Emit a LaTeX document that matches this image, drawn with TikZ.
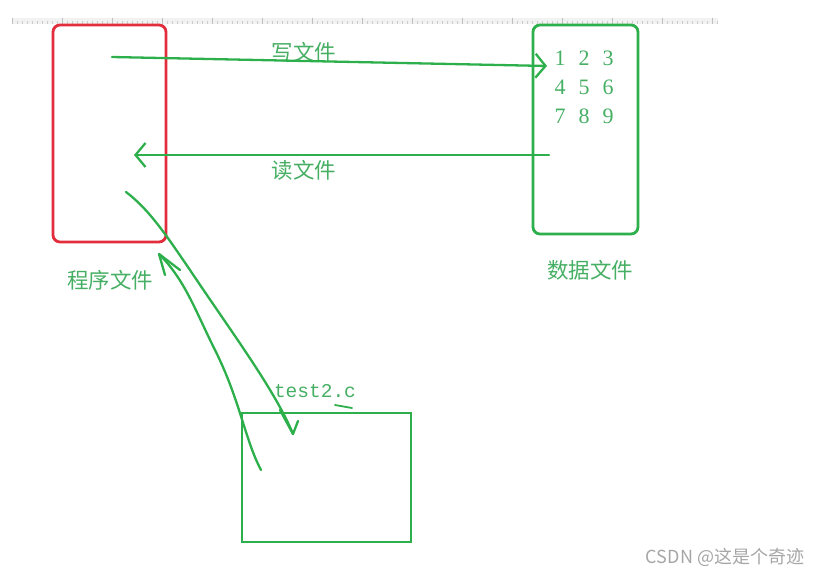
\documentclass[tikz,border=0pt]{standalone}
\usepackage{fontspec}
\setmainfont{Liberation Serif}
\setmonofont{Liberation Mono}
\newfontfamily\cjk{Noto Sans CJK SC}
\usetikzlibrary{arrows.meta}
\definecolor{penG}{RGB}{45,175,75}
\definecolor{txtG}{RGB}{70,175,100}
\definecolor{penR}{RGB}{225,45,60}
\tikzset{
  gbox/.style={draw=penG, line width=2.8pt, rounded corners=7pt, inner sep=0pt},
  rbox/.style={draw=penR, line width=2.8pt, rounded corners=7pt, inner sep=0pt},
  sbox/.style={draw=penG, line width=2.8pt, inner sep=0pt},
  pen/.style={draw=penG, line width=2.3pt, line cap=round, line join=round},
  lbl/.style={text=txtG, font=\cjk\fontsize{21.5}{23}\selectfont, inner sep=0pt},
  num/.style={text=txtG, font=\fontsize{22}{24}\selectfont, inner sep=0pt},
  barb/.style={-{Straight Barb[length=10pt,width=24pt,line width=2.3pt]}}
}
\begin{document}
\begin{tikzpicture}[x=1pt,y=-1pt]
\useasboundingbox (0,0) rectangle (826,577);
% ruler strip
\fill[gray!10] (12,18) rectangle (718,24);
\foreach \i in {0,...,141} {\draw[gray!40, line width=0.4pt] (12+5*\i,21) -- (12+5*\i,24);}
\foreach \i in {0,...,14} {\draw[gray!50, line width=0.5pt] (12+50*\i,18) -- (12+50*\i,24);}
% boxes
\node[rbox, minimum width=113pt, minimum height=217pt] (prog) at (109.5,133.5) {};
\node[gbox, minimum width=105pt, minimum height=209pt] (data) at (585.5,129.5) {};
\node[sbox, minimum width=169pt, minimum height=129pt] (src) at (326.5,477.5) {};
% numbers
\node[num] (n1) at (560,58) {1};
\node[num] (n2) at (584,58) {2};
\node[num] (n3) at (608,58) {3};
\node[num] (n4) at (560,87) {4};
\node[num] (n5) at (584,87) {5};
\node[num] (n6) at (608,87) {6};
\node[num] (n7) at (560,116) {7};
\node[num] (n8) at (584,116) {8};
\node[num] (n9) at (608,116) {9};
% labels
\node[lbl] (wlbl) at (304,52) {写文件};
\node[lbl] (rlbl) at (304,170) {读文件};
\node[lbl] (plbl) at (110,280) {程序文件};
\node[lbl] (dlbl) at (590,270) {数据文件};
\node[text=txtG, font=\ttfamily\fontsize{19.5}{21}\selectfont, inner sep=0pt] (fname) at (315,391) {test2.c};
\node[text=gray!70, font=\cjk\fontsize{18}{20}\selectfont, inner sep=0pt] (mark) at (725,557) {CSDN @这是个奇迹};
% connector end points
\coordinate (wS) at (112,57);
\coordinate (wE) at (547,66);
\coordinate (rS) at (549,155);
\coordinate (rE) at (134,155);
\coordinate (c1S) at (126,192);
\coordinate (c1E) at (293,434);
\coordinate (c2S) at (261,470);
\coordinate (c2E) at (159,254);
% write / read arrows
\draw[pen, barb] (wS) -- (wE);
\draw[pen, barb] (rS) -- (rE);
% hand-drawn curves
\draw[pen] (c1S) .. controls (150,210) and (168,238) .. (190,270)
  .. controls (230,330) and (275,390) .. (c1E);
\draw[pen] (280,410) -- (c1E) -- (298,421);
\draw[pen] (c2S) .. controls (245,440) and (240,400) .. (215,350)
  .. controls (195,310) and (185,280) .. (c2E);
\draw[pen] (165,275) -- (c2E) -- (180,270);
% small tick under test2.c
\draw[pen, line width=1.8pt] (335,405) -- (352,408);
\end{tikzpicture}
\end{document}
